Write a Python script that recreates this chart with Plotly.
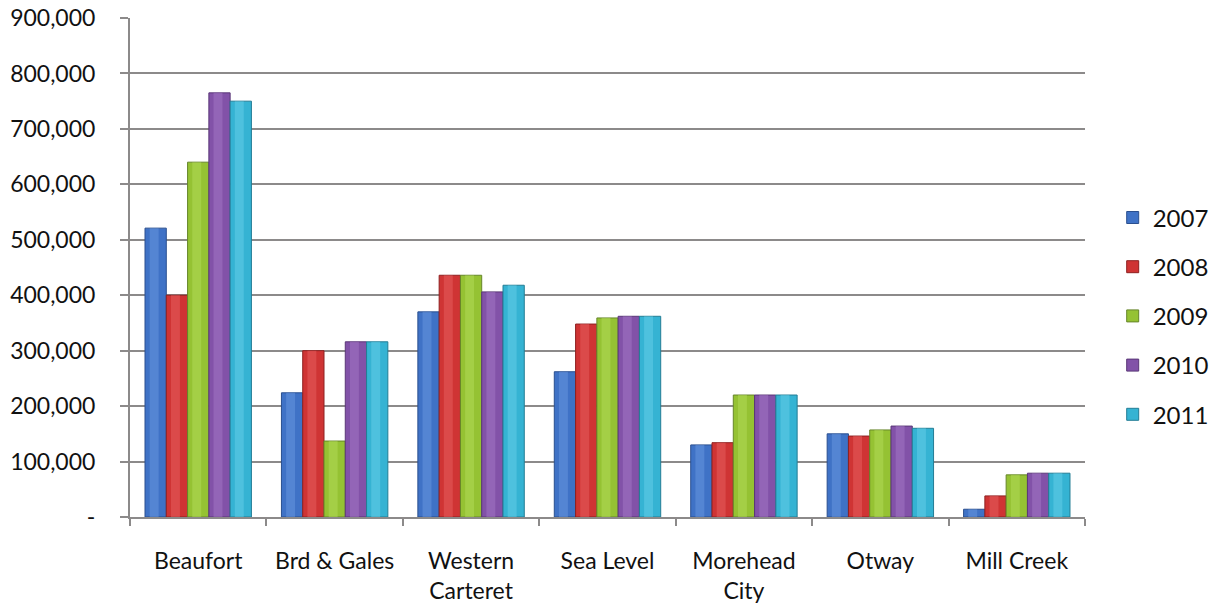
import plotly.graph_objects as go

# Locations along the x axis
locations = ["Beaufort", "Brd & Gales", "Western<br>Carteret", "Sea Level",
             "Morehead<br>City", "Otway", "Mill Creek"]

# Yearly totals per location
years = ["2007", "2008", "2009", "2010", "2011"]
v2007 = [521000, 224000, 370000, 262000, 130000, 150000, 14000]
v2008 = [400000, 300000, 436000, 348000, 134000, 146000, 38000]
v2009 = [640000, 137000, 436000, 359000, 220000, 157000, 76000]
v2010 = [765000, 316000, 406000, 362000, 220000, 164000, 79000]
v2011 = [750000, 316000, 418000, 362000, 220000, 160000, 79000]
series = [v2007, v2008, v2009, v2010, v2011]

# Tick labels for the value axis (zero shown as a dash)
y_ticks = [0, 100000, 200000, 300000, 400000, 500000, 600000, 700000, 800000, 900000]
y_labels = ["-", "100,000", "200,000", "300,000", "400,000", "500,000",
            "600,000", "700,000", "800,000", "900,000"]

base_colors = ["#3f72c6", "#cf3434", "#95c233", "#8252a8", "#35b3d3"]
edge_colors = ["#2a4f8f", "#8e2121", "#66862a", "#5a3777", "#237d95"]
glow_colors = ["#6a98e0", "#e86060", "#b4dc5a", "#a378c6", "#68d0ea"]

group_span = 0.78
bar_w = group_span / len(series)
start = -group_span / 2

fig = go.Figure()
for i, (year, vals) in enumerate(zip(years, series)):
    off = start + i * bar_w
    fig.add_trace(go.Bar(
        x=locations, y=vals, name=year, legendgroup=year,
        offset=off, width=bar_w,
        marker=dict(color=base_colors[i], line=dict(color=edge_colors[i], width=1)),
    ))
    # soft highlight down the middle of each bar
    fig.add_trace(go.Bar(
        x=locations, y=vals, name=year, legendgroup=year, showlegend=False,
        offset=off + bar_w * 0.22, width=bar_w * 0.42,
        marker=dict(color=glow_colors[i], opacity=0.5, line=dict(width=0)),
        hoverinfo="skip",
    ))

grid = "#8c8a8a"
font_name = "Lato, Open Sans, sans-serif"
fig.update_layout(
    width=1220, height=609,
    margin=dict(l=130, r=135, t=18, b=92, autoexpand=False),
    paper_bgcolor="white", plot_bgcolor="white",
    barmode="overlay",
    font=dict(family=font_name, size=23, color="#111111"),
    showlegend=True,
    legend=dict(
        x=1.029, y=0.403, xanchor="left", yanchor="middle",
        font=dict(size=24), tracegroupgap=15, itemwidth=30,
        bgcolor="rgba(0,0,0,0)",
    ),
    xaxis=dict(
        type="category", showgrid=False, automargin=False,
        showline=True, linecolor=grid, linewidth=2,
        ticks="outside", tickson="boundaries", ticklen=7, tickcolor=grid, tickwidth=2,
        ticklabelstandoff=22,
    ),
    yaxis=dict(
        range=[0, 900000], tickvals=y_ticks, ticktext=y_labels, automargin=False,
        showgrid=True, gridcolor=grid, gridwidth=2,
        showline=True, linecolor=grid, linewidth=2,
        ticks="outside", ticklen=8, tickcolor=grid, tickwidth=2,
        ticklabelstandoff=20, zeroline=False,
    ),
)

fig.write_html("out.html")
